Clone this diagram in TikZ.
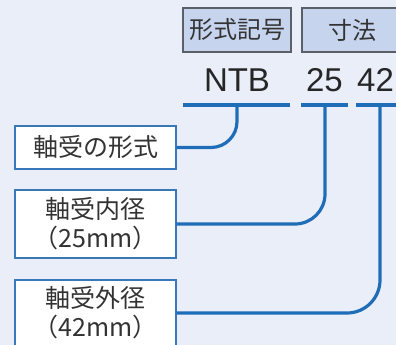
\documentclass[tikz,border=0pt]{standalone}
\usepackage{fontspec}
\setmainfont{Noto Sans CJK JP}
\newfontfamily\latinfont{Liberation Sans}
\definecolor{bgc}{HTML}{E9EEF8}
\definecolor{hdrfill}{HTML}{C6D4EE}
\definecolor{hdrdraw}{HTML}{5A5F68}
\definecolor{lineblue}{HTML}{1F6DB8}
\definecolor{boxdraw}{HTML}{3A78BE}
\definecolor{txt}{HTML}{333333}
\tikzset{
  hdr/.style={draw=hdrdraw, fill=hdrfill, line width=1.2pt, inner sep=0pt, minimum height=44pt, text=txt, font=\fontsize{24}{26}\selectfont},
  lbl/.style={draw=boxdraw, fill=white, line width=1.3pt, inner sep=0pt, minimum width=161pt, align=center, text=txt, font=\fontsize{25}{29}\selectfont},
  code/.style={inner sep=0pt, text=black!85, font=\latinfont\fontsize{33}{35}\selectfont},
  conn/.style={draw=lineblue, line width=3.2pt},
}
\begin{document}
\begin{tikzpicture}[x=1pt,y=-1pt]
\useasboundingbox (0,0) rectangle (396,345);
\fill[bgc] (0,0) rectangle (396,345);
\clip (0,0) rectangle (396,345);
% header boxes
\node[hdr, minimum width=108pt] (h1) at (237,30) {形式記号};
\node[hdr, minimum width=100pt] (h2) at (352,30) {寸法};
% code text
\node[code] (ntb) at (237,80) {NTB};
\node[code] (n25) at (324.5,80) {25};
\node[code, anchor=west] (n42) at (357,80) {42};
% underlines
\coordinate (u1a) at (183,105); \coordinate (u1b) at (290,105);
\coordinate (u2a) at (301,105); \coordinate (u2b) at (348,105);
\coordinate (u3a) at (356,105); \coordinate (u3b) at (400,105);
\draw[conn] (u1a) -- (u1b);
\draw[conn] (u2a) -- (u2b);
\draw[conn] (u3a) -- (u3b);
\coordinate (d1) at (237,105);
\coordinate (d2) at (325,105);
\coordinate (d3) at (380,105);
% label boxes
\node[lbl, minimum height=43pt] (b1) at (95.5,147.5) {軸受の形式};
\node[lbl, minimum height=68pt] (b2) at (95.5,224) {軸受内径\\（25mm）};
\node[lbl, minimum height=66pt] (b3) at (95.5,313) {軸受外径\\（42mm）};
% connectors
\draw[conn, rounded corners=26pt] (d1) -- (d1 |- b1.east) -- (b1.east);
\draw[conn, rounded corners=30pt] (d2) -- (d2 |- b2.east) -- (b2.east);
\draw[conn, rounded corners=33pt] (d3) -- (d3 |- b3.east) -- (b3.east);
\end{tikzpicture}
\end{document}
